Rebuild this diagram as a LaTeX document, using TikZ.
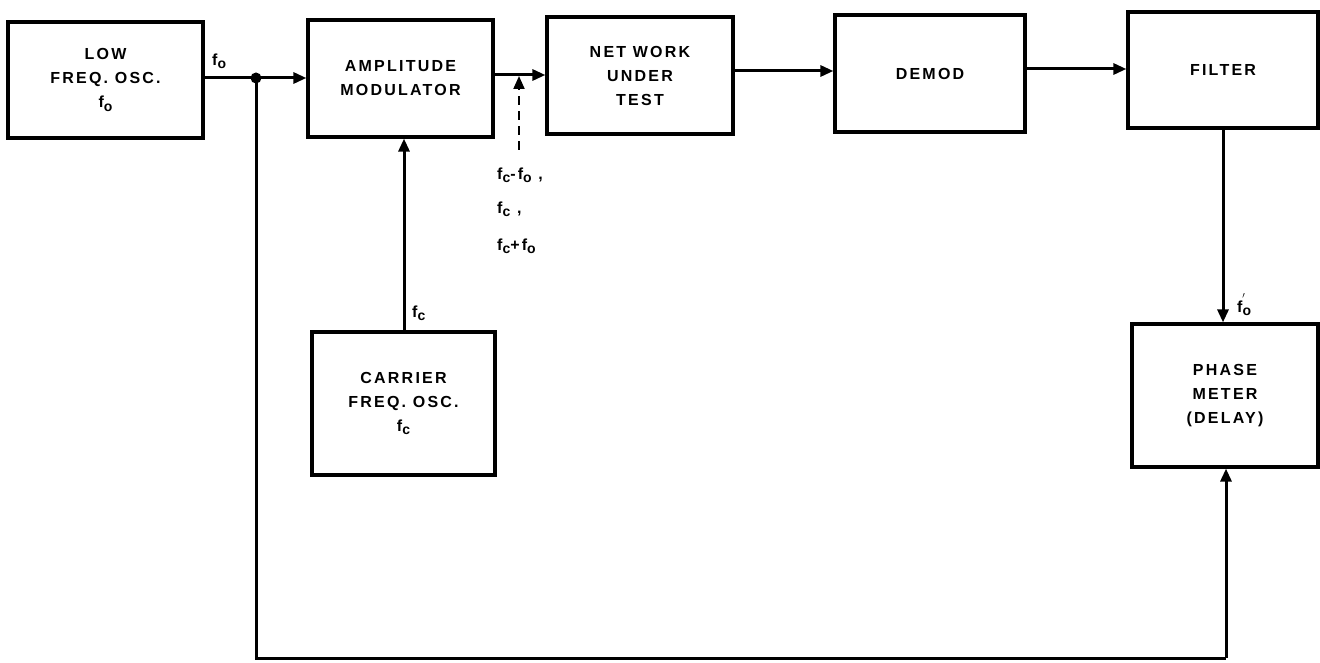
\documentclass[tikz,border=0pt]{standalone}
\usepackage{fontspec}
\setmainfont{Liberation Sans}[LetterSpace=14]
\usetikzlibrary{arrows.meta}
\newcommand\subl[1]{\raisebox{-0.4ex}{\fontsize{14}{14}\selectfont #1}}
\tikzset{
  blk/.style={draw, line width=3.2pt, align=center, inner sep=0pt,
    font=\bfseries\fontsize{16}{24}\selectfont},
  wire/.style={line width=3pt},
  arr/.style={wire, -{Triangle[length=13pt,width=11pt]}},
  lbl/.style={font=\bfseries\fontsize{16}{24}\selectfont, inner sep=0pt, anchor=west},
}
\begin{document}
\begin{tikzpicture}[x=1pt,y=-1pt]
\useasboundingbox (0,0) rectangle (1320,663);
\node[blk, minimum width=195pt, minimum height=116pt] (low) at (105.5,80) {LOW\\FREQ. OSC.\\f\subl{o}};
\node[blk, minimum width=185pt, minimum height=117pt] (am) at (400.5,78.5) {AMPLITUDE\\MODULATOR};
\node[blk, minimum width=186pt, minimum height=117pt] (net) at (640,75.5) {NET WORK\\UNDER\\TEST};
\node[blk, minimum width=190pt, minimum height=117pt] (demod) at (930,73.5) {DEMOD};
\node[blk, minimum width=190pt, minimum height=116pt] (filter) at (1223,70) {FILTER};
\node[blk, minimum width=186pt, minimum height=143pt] (phase) at (1225,395.5) {PHASE\\METER\\(DELAY)};
\node[blk, minimum width=183pt, minimum height=143pt] (carrier) at (403.5,403.5) {CARRIER\\FREQ. OSC.\\f\subl{c}};

\coordinate (j) at (256,78);
\coordinate (bot) at (0,658);
\coordinate (dash) at (519,150);

\draw[arr] (j -| low.east) -- (j -| am.west);
\fill (j) circle (5.5pt);
\draw[arr] (am.east |- 0,75) -- (net.west |- 0,75);
\draw[arr] (net.east |- 0,71) -- (demod.west |- 0,71);
\draw[arr] (demod.east |- 0,69) -- (filter.west |- 0,69);
\draw[arr] (filter.south -| 1223,0) -- (phase.north -| 1223,0);
\draw[arr] (carrier.north -| 404,0) -- (am.south -| 404,0);
\draw[arr, line width=2pt, dash pattern=on 9pt off 6pt] (dash) -- (dash |- 0,76);
\draw[wire] (j) -- (j |- bot) -- (bot -| 1226,0);
\draw[arr] (bot -| 1226,0) -- (phase.south -| 1226,0);

\node[lbl] (l1) at (212,61) {f\subl{o}};
\node[lbl] (l2) at (412,313) {f\subl{c}};
\node[lbl] (l3) at (1237,305) {f\subl{o}\kern-0.55em\raisebox{1.1ex}{\fontsize{13}{13}\selectfont$'$}};
\node[lbl] (l4) at (497,175) {f\subl{c}-f\subl{o} ,};
\node[lbl] (l5) at (497,209) {f\subl{c} ,};
\node[lbl] (l6) at (497,246) {f\subl{c}+f\subl{o}};
\end{tikzpicture}
\end{document}
